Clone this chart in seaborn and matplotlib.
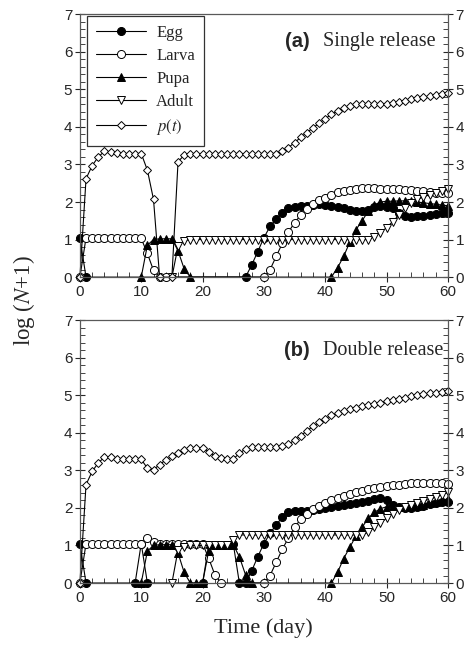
import matplotlib
matplotlib.use("Agg")
import matplotlib.pyplot as plt
from matplotlib.ticker import MultipleLocator
import numpy as np
import seaborn as sns

n = np.nan

# %% data: log(N+1) per day, t = 0..60
days = list(range(61))

# (a) single release
egg_a = [1.04, 0] + [n] * 25 + [0, 0.32, 0.68, 1.05, 1.35, 1.55, 1.72, 1.85, 1.88, 1.90,
         1.90, 1.93, 1.95, 1.93, 1.90, 1.87, 1.83, 1.80, 1.77, 1.75, 1.80, 1.88, 1.90,
         1.88, 1.85, 1.72, 1.63, 1.60, 1.62, 1.64, 1.66, 1.68, 1.70, 1.70]
larva_a = [0] + [1.05] * 9 + [1.03, 0.63, 0.18, 0, 0] + [n] * 15 + [0, 0.20, 0.55, 0.90,
           1.20, 1.45, 1.65, 1.82, 1.95, 2.05, 2.12, 2.20, 2.26, 2.30, 2.33, 2.35, 2.37,
           2.37, 2.36, 2.35, 2.34, 2.34, 2.34, 2.33, 2.32, 2.30, 2.28, 2.26, 2.24, 2.23, 2.23]
pupa_a = [n] * 10 + [0, 0.85, 1.00, 1.02, 1.02, 1.02, 0.70, 0.22, 0] + [n] * 22 + [0, 0.25,
          0.55, 0.93, 1.26, 1.50, 1.75, 1.92, 2.00, 2.02, 2.02, 2.03, 2.03, 2.02, 2.00,
          1.98, 1.96, 1.94, 1.92, 1.90]
adult_a = [n] * 15 + [0, 0.82, 0.97] + [1.0] * 30 + [1.08, 1.18, 1.32, 1.48, 1.65, 1.85,
           1.98, 2.07, 2.13, 2.20, 2.25, 2.30, 2.35]
p_a = [0, 2.62, 2.97, 3.20, 3.35, 3.33, 3.30, 3.29, 3.29, 3.29, 3.29, 2.85, 2.07, 0, n, 0,
       3.07, 3.25] + [3.29] * 15 + [3.35, 3.45, 3.58, 3.72, 3.85, 3.97, 4.10, 4.22, 4.33,
       4.42, 4.50, 4.55, 4.60, 4.62, 4.62, 4.62, 4.62, 4.62, 4.63, 4.66, 4.70, 4.73, 4.76,
       4.79, 4.82, 4.85, 4.87, 4.90]

# (b) double release
egg_b = [1.04, 0] + [n] * 7 + [0, 1.05, 0] + [n] * 8 + [0, 1.00, 1.02, 1.02, 1.02, 1.05,
         0, 0, 0.32, 0.70, 1.05, 1.32, 1.55, 1.75, 1.90, 1.92, 1.93, 1.93, 1.95, 1.97, 2.00,
         2.02, 2.05, 2.08, 2.10, 2.12, 2.15, 2.18, 2.24, 2.27, 2.20, 2.08, 2.02, 2.00, 2.00,
         2.03, 2.06, 2.10, 2.13, 2.15, 2.17]
larva_b = [0] + [1.05] * 10 + [1.20, 1.08] + [1.05] * 8 + [0.66, 0.22, 0] + [n] * 6 + [0,
           0.20, 0.55, 0.90, 1.20, 1.48, 1.70, 1.85, 1.97, 2.05, 2.12, 2.20, 2.26, 2.32,
           2.37, 2.42, 2.46, 2.50, 2.53, 2.56, 2.58, 2.60, 2.62, 2.64, 2.66, 2.67, 2.67,
           2.67, 2.66, 2.65, 2.63]
pupa_b = [n] * 10 + [0, 0.85, 1.00, 1.02, 1.02, 1.02, 0.80, 0.28, 0, 0, 0, 0.86, 1.00,
          1.02, 1.02, 1.02, 0.70, 0.22, 0] + [n] * 12 + [0, 0.28, 0.65, 0.95, 1.25, 1.48,
          1.72, 1.88, 1.98, 2.03, 2.03, 2.03, 2.03, 2.04, 2.06, 2.09, 2.12, 2.15, 2.18, 2.25]
adult_b = [n] * 15 + [0, 0.88, 0.97] + [1.0] * 7 + [1.15] + [1.28] * 21 + [1.35, 1.48,
           1.60, 1.72, 1.85, 1.95, 2.03, 2.08, 2.13, 2.18, 2.23, 2.28, 2.35, 2.42]
p_b = [0, 2.62, 2.97, 3.20, 3.35, 3.35, 3.30, 3.29, 3.29, 3.29, 3.29, 3.06, 3.02, 3.15,
       3.28, 3.37, 3.45, 3.53, 3.60, 3.60, 3.60, 3.50, 3.38, 3.32, 3.30, 3.30, 3.45, 3.57,
       3.62, 3.62, 3.62, 3.62, 3.62, 3.64, 3.70, 3.80, 3.92, 4.05, 4.17, 4.28, 4.38, 4.46,
       4.52, 4.58, 4.63, 4.67, 4.70, 4.73, 4.76, 4.80, 4.84, 4.87, 4.90, 4.93, 4.97, 5.00,
       5.03, 5.05, 5.07, 5.08, 5.10]

# %% style
sns.set_style("ticks")
plt.rcParams["font.family"] = ["Liberation Sans", "DejaVu Sans"]
plt.rcParams["mathtext.fontset"] = "stix"
serif = ["Liberation Serif", "DejaVu Serif"]

fig = plt.figure(figsize=(4.7, 6.46), dpi=100)
ax1 = fig.add_axes([0.170, 0.571, 0.783, 0.407])
ax2 = fig.add_axes([0.170, 0.0975, 0.783, 0.407])

styles = [("Egg", "o", "black", 5.8),
          ("Larva", "o", "white", 5.8),
          ("Pupa", "^", "black", 5.8),
          ("Adult", "v", "white", 5.8),
          (r"$p(t)$", "D", "white", 3.8)]


def draw_panel(ax, series):
    for (lab, mk, fc, ms), vals in zip(styles, series):
        sns.lineplot(x=days, y=vals, ax=ax, label=lab, color="black",
                     linewidth=0.8, marker=mk, markersize=ms,
                     markerfacecolor=fc, markeredgecolor="black",
                     markeredgewidth=0.7, errorbar=None, clip_on=False)
    ax.set_xlim(0, 60)
    ax.set_ylim(0, 7)
    ax.xaxis.set_major_locator(MultipleLocator(10))
    ax.xaxis.set_minor_locator(MultipleLocator(2))
    ax.yaxis.set_major_locator(MultipleLocator(1))
    ax.yaxis.set_minor_locator(MultipleLocator(0.2))
    ax.tick_params(which="major", direction="inout", length=7, width=0.8,
                   labelsize=11, right=True, labelright=True, pad=2)
    ax.tick_params(which="minor", direction="in", length=3.5, width=0.6, right=True)
    for sp in ax.spines.values():
        sp.set_visible(True)
        sp.set_color("0.35")
        sp.set_linewidth(0.9)
    ax.set_xlabel("")
    ax.set_ylabel("")


draw_panel(ax1, [egg_a, larva_a, pupa_a, adult_a, p_a])
draw_panel(ax2, [egg_b, larva_b, pupa_b, adult_b, p_b])

# legend only in top panel
ax2.get_legend().remove()
leg = ax1.legend(loc="upper left", bbox_to_anchor=(0.019, 0.993), borderaxespad=0,
                 frameon=True, fancybox=False, edgecolor="black", handlelength=3.0,
                 labelspacing=0.42, borderpad=0.55, handletextpad=0.6,
                 prop={"family": serif, "size": 12})
leg.get_frame().set_linewidth(0.9)

# panel titles
ax1.text(37.4, 6.28, "(a)", ha="right", va="center", fontsize=14.5, fontweight="bold")
ax1.text(39.6, 6.28, "Single release", ha="left", va="center", fontsize=14.5, family=serif)
ax2.text(37.4, 6.2, "(b)", ha="right", va="center", fontsize=14.5, fontweight="bold")
ax2.text(39.6, 6.2, "Double release", ha="left", va="center", fontsize=14.5, family=serif)

# shared axis labels
fig.text(0.052, 0.534, r"log ($\mathit{N}$+1)", rotation=90, ha="center", va="center",
         fontsize=16.5, family=serif)
fig.text(0.561, 0.028, "Time (day)", ha="center", va="center", fontsize=16, family=serif)

fig.savefig("out.png", dpi=100)
